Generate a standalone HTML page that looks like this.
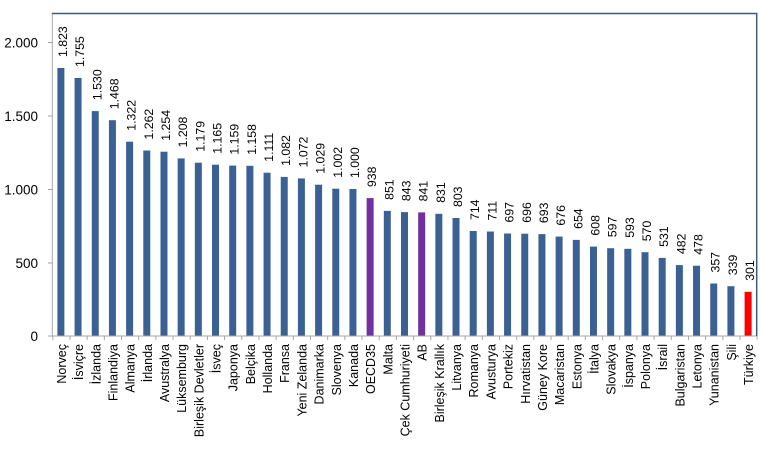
<!DOCTYPE html>
<html><head><meta charset="utf-8"><style>
html,body{margin:0;padding:0;background:#fff;}
svg{display:block;font-family:"Liberation Sans",sans-serif;}
.v{font-size:12.3px;fill:#000;}
.c{font-size:12.5px;fill:#000;text-anchor:end;}
.y{font-size:13.5px;fill:#000;text-anchor:end;}
</style></head><body>
<svg width="761" height="452" viewBox="0 0 761 452" xmlns="http://www.w3.org/2000/svg">
<rect width="761" height="452" fill="#fff"/>
<!-- y labels -->
<text class="y" x="38" y="47.5">2.000</text>
<text class="y" x="38" y="121">1.500</text>
<text class="y" x="38" y="194.5">1.000</text>
<text class="y" x="38" y="268">500</text>
<text class="y" x="38" y="341">0</text>
<!-- y ticks -->
<path d="M48 42.5H52.5M48 116H52.5M48 189.5H52.5M48 263H52.5M48 336H52.5" stroke="#a0a0a0" stroke-width="1"/>
<!-- bars -->
<g fill="#3b6194">
<rect x="57.39" y="68.0" width="7" height="268.0"/>
<rect x="74.57" y="78.0" width="7" height="258.0"/>
<rect x="91.75" y="111.1" width="7" height="224.9"/>
<rect x="108.93" y="120.2" width="7" height="215.8"/>
<rect x="126.11" y="141.7" width="7" height="194.3"/>
<rect x="143.29" y="150.5" width="7" height="185.5"/>
<rect x="160.47" y="151.7" width="7" height="184.3"/>
<rect x="177.65" y="158.4" width="7" height="177.6"/>
<rect x="194.83" y="162.7" width="7" height="173.3"/>
<rect x="212.01" y="164.7" width="7" height="171.3"/>
<rect x="229.19" y="165.6" width="7" height="170.4"/>
<rect x="246.37" y="165.8" width="7" height="170.2"/>
<rect x="263.55" y="172.7" width="7" height="163.3"/>
<rect x="280.73" y="176.9" width="7" height="159.1"/>
<rect x="297.91" y="178.4" width="7" height="157.6"/>
<rect x="315.09" y="184.7" width="7" height="151.3"/>
<rect x="332.27" y="188.7" width="7" height="147.3"/>
<rect x="349.45" y="189.0" width="7" height="147.0"/>
<rect x="383.81" y="210.9" width="7" height="125.1"/>
<rect x="400.99" y="212.1" width="7" height="123.9"/>
<rect x="435.35" y="213.8" width="7" height="122.2"/>
<rect x="452.53" y="218.0" width="7" height="118.0"/>
<rect x="469.71" y="231.0" width="7" height="105.0"/>
<rect x="486.89" y="231.5" width="7" height="104.5"/>
<rect x="504.07" y="233.5" width="7" height="102.5"/>
<rect x="521.25" y="233.7" width="7" height="102.3"/>
<rect x="538.43" y="234.1" width="7" height="101.9"/>
<rect x="555.61" y="236.6" width="7" height="99.4"/>
<rect x="572.79" y="239.9" width="7" height="96.1"/>
<rect x="589.97" y="246.6" width="7" height="89.4"/>
<rect x="607.15" y="248.2" width="7" height="87.8"/>
<rect x="624.33" y="248.8" width="7" height="87.2"/>
<rect x="641.51" y="252.2" width="7" height="83.8"/>
<rect x="658.69" y="257.9" width="7" height="78.1"/>
<rect x="675.87" y="265.1" width="7" height="70.9"/>
<rect x="693.05" y="265.7" width="7" height="70.3"/>
<rect x="710.23" y="283.5" width="7" height="52.5"/>
<rect x="727.41" y="286.2" width="7" height="49.8"/>
</g>
<rect x="366.63" y="198.1" width="7" height="137.9" fill="#7030a0"/>
<rect x="418.17" y="212.4" width="7" height="123.6" fill="#7030a0"/>
<rect x="744.59" y="291.8" width="7" height="44.2" fill="#ff0000"/>
<!-- axes / frame -->
<line x1="52.3" y1="13" x2="52.3" y2="336.5" stroke="#a6a6a6" stroke-width="1"/>
<line x1="52.3" y1="336" x2="757" y2="336" stroke="#a6a6a6" stroke-width="1"/>
<line x1="52.3" y1="338" x2="757.5" y2="338" stroke="#a6a6a6" stroke-width="4" stroke-dasharray="1 16.18"/>
<line x1="52" y1="13.5" x2="757" y2="13.5" stroke="#3d5a80" stroke-width="1.5"/>
<line x1="756.7" y1="13" x2="756.7" y2="336" stroke="#3d5a80" stroke-width="1.5"/>
<!-- value labels -->
<g class="v">
<text transform="translate(66.9,57.0) rotate(-90)">1.823</text>
<text transform="translate(84.07,67.0) rotate(-90)">1.755</text>
<text transform="translate(101.25,100.1) rotate(-90)">1.530</text>
<text transform="translate(118.43,109.2) rotate(-90)">1.468</text>
<text transform="translate(135.61,130.7) rotate(-90)">1.322</text>
<text transform="translate(152.79,139.5) rotate(-90)">1.262</text>
<text transform="translate(169.97,140.7) rotate(-90)">1.254</text>
<text transform="translate(187.15,147.4) rotate(-90)">1.208</text>
<text transform="translate(204.33,151.7) rotate(-90)">1.179</text>
<text transform="translate(221.51,153.7) rotate(-90)">1.165</text>
<text transform="translate(238.69,154.6) rotate(-90)">1.159</text>
<text transform="translate(255.87,154.8) rotate(-90)">1.158</text>
<text transform="translate(273.05,161.7) rotate(-90)">1.111</text>
<text transform="translate(290.23,165.9) rotate(-90)">1.082</text>
<text transform="translate(307.41,167.4) rotate(-90)">1.072</text>
<text transform="translate(324.59,173.7) rotate(-90)">1.029</text>
<text transform="translate(341.77,177.7) rotate(-90)">1.002</text>
<text transform="translate(358.95,178.0) rotate(-90)">1.000</text>
<text transform="translate(376.13,187.1) rotate(-90)">938</text>
<text transform="translate(393.31,199.9) rotate(-90)">851</text>
<text transform="translate(410.49,201.1) rotate(-90)">843</text>
<text transform="translate(427.67,201.4) rotate(-90)">841</text>
<text transform="translate(444.85,202.8) rotate(-90)">831</text>
<text transform="translate(462.03,207.0) rotate(-90)">803</text>
<text transform="translate(479.21,220.0) rotate(-90)">714</text>
<text transform="translate(496.39,220.5) rotate(-90)">711</text>
<text transform="translate(513.57,222.5) rotate(-90)">697</text>
<text transform="translate(530.75,222.7) rotate(-90)">696</text>
<text transform="translate(547.93,223.1) rotate(-90)">693</text>
<text transform="translate(565.11,225.6) rotate(-90)">676</text>
<text transform="translate(582.29,228.9) rotate(-90)">654</text>
<text transform="translate(599.47,235.6) rotate(-90)">608</text>
<text transform="translate(616.65,237.2) rotate(-90)">597</text>
<text transform="translate(633.83,237.8) rotate(-90)">593</text>
<text transform="translate(651.01,241.2) rotate(-90)">570</text>
<text transform="translate(668.19,246.9) rotate(-90)">531</text>
<text transform="translate(685.37,254.1) rotate(-90)">482</text>
<text transform="translate(702.55,254.7) rotate(-90)">478</text>
<text transform="translate(719.73,272.5) rotate(-90)">357</text>
<text transform="translate(736.91,275.2) rotate(-90)">339</text>
<text transform="translate(754.09,280.8) rotate(-90)">301</text>
</g>
<!-- category labels -->
<g class="c">
<text transform="translate(65.89,344) rotate(-90)">Norveç</text>
<text transform="translate(83.07,344) rotate(-90)">İsviçre</text>
<text transform="translate(100.25,344) rotate(-90)">İzlanda</text>
<text transform="translate(117.43,344) rotate(-90)">Finlandiya</text>
<text transform="translate(134.61,344) rotate(-90)">Almanya</text>
<text transform="translate(151.79,344) rotate(-90)">İrlanda</text>
<text transform="translate(168.97,344) rotate(-90)">Avustralya</text>
<text transform="translate(186.15,344) rotate(-90)">Lüksemburg</text>
<text transform="translate(203.33,344) rotate(-90)">Birleşik Devletler</text>
<text transform="translate(220.51,344) rotate(-90)">İsveç</text>
<text transform="translate(237.69,344) rotate(-90)">Japonya</text>
<text transform="translate(254.87,344) rotate(-90)">Belçika</text>
<text transform="translate(272.05,344) rotate(-90)">Hollanda</text>
<text transform="translate(289.23,344) rotate(-90)">Fransa</text>
<text transform="translate(306.41,344) rotate(-90)">Yeni Zelanda</text>
<text transform="translate(323.59,344) rotate(-90)">Danimarka</text>
<text transform="translate(340.77,344) rotate(-90)">Slovenya</text>
<text transform="translate(357.95,344) rotate(-90)">Kanada</text>
<text transform="translate(375.13,344) rotate(-90)">OECD35</text>
<text transform="translate(392.31,344) rotate(-90)">Malta</text>
<text transform="translate(409.49,344) rotate(-90)">Çek Cumhuriyeti</text>
<text transform="translate(426.67,344) rotate(-90)">AB</text>
<text transform="translate(443.85,344) rotate(-90)">Birleşik Krallık</text>
<text transform="translate(461.03,344) rotate(-90)">Litvanya</text>
<text transform="translate(478.21,344) rotate(-90)">Romanya</text>
<text transform="translate(495.39,344) rotate(-90)">Avusturya</text>
<text transform="translate(512.57,344) rotate(-90)">Portekiz</text>
<text transform="translate(529.75,344) rotate(-90)">Hırvatistan</text>
<text transform="translate(546.93,344) rotate(-90)">Güney Kore</text>
<text transform="translate(564.11,344) rotate(-90)">Macaristan</text>
<text transform="translate(581.29,344) rotate(-90)">Estonya</text>
<text transform="translate(598.47,344) rotate(-90)">İtalya</text>
<text transform="translate(615.65,344) rotate(-90)">Slovakya</text>
<text transform="translate(632.83,344) rotate(-90)">İspanya</text>
<text transform="translate(650.01,344) rotate(-90)">Polonya</text>
<text transform="translate(667.19,344) rotate(-90)">İsrail</text>
<text transform="translate(684.37,344) rotate(-90)">Bulgaristan</text>
<text transform="translate(701.55,344) rotate(-90)">Letonya</text>
<text transform="translate(718.73,344) rotate(-90)">Yunanistan</text>
<text transform="translate(735.91,344) rotate(-90)">Şili</text>
<text transform="translate(753.09,344) rotate(-90)">Türkiye</text>
</g>
</svg>
</body></html>
